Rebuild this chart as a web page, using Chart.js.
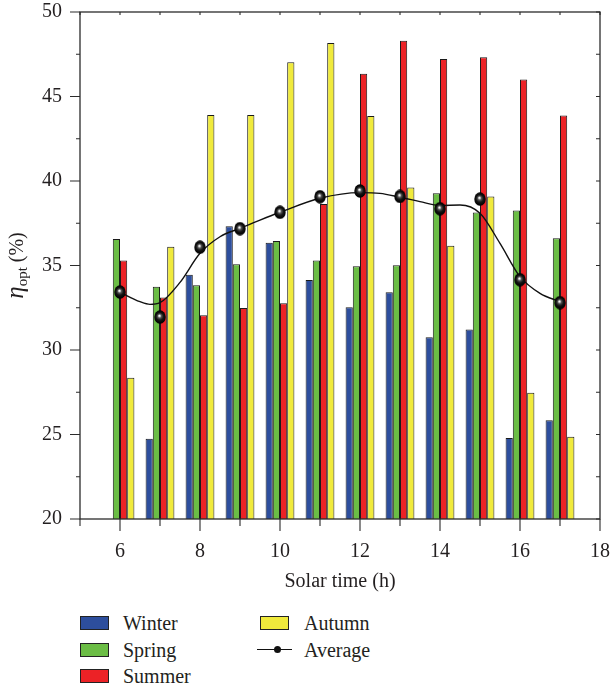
<!DOCTYPE html>
<html lang="en">
<head>
<meta charset="UTF-8">
<title>Optical efficiency vs solar time</title>
<script src="https://cdn.jsdelivr.net/npm/chart.js"></script>
<style>
  body { margin: 0; background: #fff; font-family: "Liberation Serif", serif; color: #231f20; }
  #wrap { position: relative; width: 610px; height: 595px; }
  .item { position: absolute; font-size: 20px; line-height: 20px; height: 20px; white-space: nowrap; }
  .sw { position: absolute; top: 3px; width: 27px; height: 12px; border: 1px solid #222; }
  .txt { position: absolute; top: 0; }
  .avgline { position: absolute; top: 9px; width: 35px; height: 0; border-top: 1.4px solid #111; }
  .avgdot { position: absolute; top: 6px; width: 7px; height: 7px; border-radius: 50%; background: #111; }
</style>
</head>
<body>
<div id="wrap"><canvas id="chart"></canvas></div>

<!-- legend -->
<div class="item" style="left:80px; top:613px;"><span class="sw" style="left:0; background:#2d4e9d;"></span><span class="txt" style="left:43px;">Winter</span></div>
<div class="item" style="left:80px; top:640px;"><span class="sw" style="left:0; background:#6bbd45;"></span><span class="txt" style="left:43px;">Spring</span></div>
<div class="item" style="left:80px; top:666px;"><span class="sw" style="left:0; background:#ec2226;"></span><span class="txt" style="left:43px;">Summer</span></div>
<div class="item" style="left:260px; top:613px;"><span class="sw" style="left:0; background:#f0ea3c;"></span><span class="txt" style="left:44px;">Autumn</span></div>
<div class="item" style="left:257px; top:640px;"><span class="avgline" style="left:0;"></span><span class="avgdot" style="left:17px;"></span><span class="txt" style="left:47px;">Average</span></div>

<script>
// hours on the x axis
const hours = [6, 7, 8, 9, 10, 11, 12, 13, 14, 15, 16, 17];

// seasonal optical efficiency (%)
const winter = [null, 24.75, 34.46, 37.32, 36.35, 34.14, 32.53, 33.41, 30.75, 31.22, 24.79, 25.84];
const spring = [36.57, 33.75, 33.83, 35.07, 36.45, 35.30, 34.95, 35.01, 39.27, 38.13, 38.26, 36.61];
const summer = [35.29, 33.10, 32.05, 32.49, 32.76, 38.64, 46.35, 48.30, 47.22, 47.32, 46.00, 43.87];
const autumn = [28.36, 36.11, 43.90, 43.90, 47.02, 48.17, 43.85, 39.62, 36.17, 39.09, 27.47, 24.87];
const average = [33.43, 31.95, 36.08, 37.18, 38.15, 39.07, 39.41, 39.09, 38.36, 38.93, 34.16, 32.80];

// smooth fitted curve
const curveX = [6, 6.5, 6.75, 7, 7.5, 8, 8.5, 9, 9.5, 10, 11, 12, 12.5, 13, 13.5, 14, 14.5, 15, 15.5, 16, 16.5, 17];
const curveY = [33.42, 32.86, 32.70, 32.80, 34.00, 35.72, 36.70, 37.20, 37.69, 38.15, 38.98, 39.31, 39.27, 39.04, 38.78, 38.55, 38.58, 38.09, 36.31, 34.34, 33.35, 32.86];

const xMin = 5, xMax = 18, yMin = 20, yMax = 50;
const textColor = '#231f20';

function pts(xs, ys) { return xs.map((x, i) => ({ x: x, y: ys[i] })); }

// black glossy ball marker
function makeBall(w, h) {
    const c = document.createElement('canvas');
    c.width = w; c.height = h;
    const g = c.getContext('2d');
    const grad = g.createRadialGradient(w * 0.45, h * 0.4, 0.2, w / 2, h / 2, w / 2);
    grad.addColorStop(0, '#ffffff');
    grad.addColorStop(0.12, '#d0d0d0');
    grad.addColorStop(0.3, '#555555');
    grad.addColorStop(0.6, '#141414');
    grad.addColorStop(1, '#000000');
    g.fillStyle = grad;
    g.beginPath();
    g.ellipse(w / 2, h / 2, w / 2 - 0.3, h / 2 - 0.3, 0, 0, Math.PI * 2);
    g.fill();
    return c;
}
const ball = makeBall(12, 14);

// frame, tick marks and y title
const frameTicks = {
    id: 'frameTicks',
    afterDraw(chart) {
        const { ctx, chartArea: a, scales: { x, y } } = chart;
        ctx.save();
        ctx.strokeStyle = '#2b2b2b';
        ctx.lineWidth = 1.3;
        ctx.strokeRect(a.left, a.top, a.right - a.left, a.bottom - a.top);
        ctx.lineWidth = 1.1;
        ctx.beginPath();
        for (let h = xMin; h <= xMax; h++) {
            const px = x.getPixelForValue(h);
            const major = h % 2 === 0;
            ctx.moveTo(px, a.bottom); ctx.lineTo(px, a.bottom + (major ? 12 : 7));
            ctx.moveTo(px, a.top); ctx.lineTo(px, a.top + 3);
        }
        for (let v = yMin; v <= yMax; v += 2.5) {
            const py = y.getPixelForValue(v);
            const major = v % 5 === 0;
            ctx.moveTo(a.left - (major ? 10 : 4), py); ctx.lineTo(a.left, py);
            ctx.moveTo(a.right - 4, py); ctx.lineTo(a.right, py);
        }
        ctx.stroke();

        // y axis title: eta_opt (%)
        const f1 = 'italic 25px "Liberation Serif", serif';
        const f2 = '15px "Liberation Serif", serif';
        const f3 = '20px "Liberation Serif", serif';
        ctx.font = f1; const w1 = ctx.measureText('\u03b7').width;
        ctx.font = f2; const w2 = ctx.measureText('opt').width;
        ctx.font = f3; const w3 = ctx.measureText(' (%)').width;
        const total = w1 + w2 + w3;
        ctx.translate(23, (a.top + a.bottom) / 2);
        ctx.rotate(-Math.PI / 2);
        ctx.fillStyle = textColor;
        ctx.textBaseline = 'alphabetic';
        let cx = -total / 2;
        ctx.font = f1; ctx.fillText('\u03b7', cx, 0); cx += w1;
        ctx.font = f2; ctx.fillText('opt', cx, 4); cx += w2;
        ctx.font = f3; ctx.fillText(' (%)', cx, 0);
        ctx.restore();
    }
};

const barCommon = { type: 'bar', borderColor: '#1a1a1a', borderWidth: 1, categoryPercentage: 0.72, barPercentage: 1, order: 3 };

new Chart(document.getElementById('chart'), {
    type: 'bar',
    data: {
        datasets: [
            Object.assign({ label: 'Winter', data: pts(hours, winter), backgroundColor: '#2d4e9d' }, barCommon),
            Object.assign({ label: 'Spring', data: pts(hours, spring), backgroundColor: '#6bbd45' }, barCommon),
            Object.assign({ label: 'Summer', data: pts(hours, summer), backgroundColor: '#ec2226' }, barCommon),
            Object.assign({ label: 'Autumn', data: pts(hours, autumn), backgroundColor: '#f0ea3c' }, barCommon),
            {
                type: 'line', label: 'fit', data: pts(curveX, curveY),
                borderColor: '#111', borderWidth: 1.4, pointRadius: 0,
                cubicInterpolationMode: 'monotone', fill: false, order: 2
            },
            {
                type: 'line', label: 'Average', data: pts(hours, average),
                showLine: false, pointStyle: ball, pointRadius: 6, order: 1
            }
        ]
    },
    options: {
        responsive: true,
        maintainAspectRatio: false,
        animation: false,
        layout: { padding: { top: 12, right: 10, left: 0, bottom: 0 } },
        plugins: { legend: { display: false }, tooltip: { enabled: false } },
        scales: {
            x: {
                type: 'linear', min: xMin, max: xMax, offset: false,
                grid: { display: false, drawTicks: false, offset: false },
                border: { display: false },
                afterFit(s) { s.height = 76; s.paddingLeft = 0; s.paddingRight = 0; },
                ticks: {
                    stepSize: 1, autoSkip: false, maxRotation: 0, padding: 21,
                    color: textColor, font: { family: '"Liberation Serif", serif', size: 20 },
                    callback: v => (v % 2 === 0 ? v : '')
                },
                title: {
                    display: true, text: 'Solar time (h)', color: textColor,
                    font: { family: '"Liberation Serif", serif', size: 20 },
                    padding: { top: 0, bottom: 1 }
                }
            },
            y: {
                min: yMin, max: yMax,
                grid: { display: false, drawTicks: false },
                border: { display: false },
                afterFit(s) { s.width = 80; s.paddingTop = 0; s.paddingBottom = 0; },
                ticks: {
                    stepSize: 2.5, autoSkip: false, padding: 18,
                    color: textColor, font: { family: '"Liberation Serif", serif', size: 20 },
                    callback: v => (v % 5 === 0 ? v : '')
                }
            }
        }
    },
    plugins: [frameTicks]
});
</script>
</body>
</html>
